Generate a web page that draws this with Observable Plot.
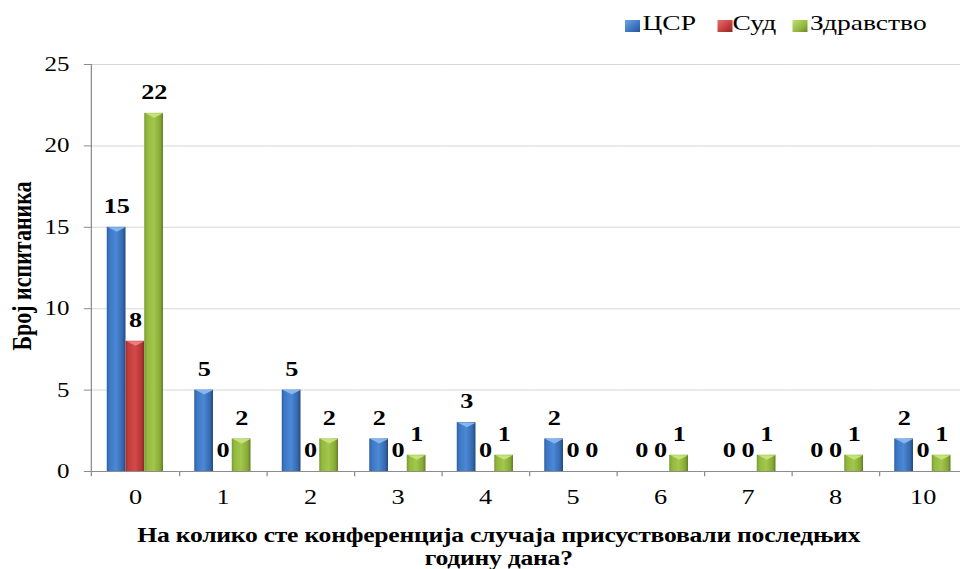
<!DOCTYPE html>
<html>
<head>
<meta charset="utf-8">
<script src="https://cdn.jsdelivr.net/npm/d3@7"></script>
<script src="https://cdn.jsdelivr.net/npm/@observablehq/plot@0.6"></script>
<style>
  html, body { margin: 0; padding: 0; background: #fff; overflow: hidden; width: 960px; height: 569px;
               font-family: "Liberation Serif", "Times New Roman", serif; }
  #page { position: relative; width: 776px; transform: scaleX(1.25); transform-origin: 0 0;
          font-family: "Liberation Serif", "Times New Roman", serif; color: #000; }
  #legend { position: relative; height: 40px; }
  .sw { position: absolute; top: 20px; width: 12px; height: 12px; }
  .lt { position: absolute; top: 12px; font-size: 22px; line-height: 22px; white-space: nowrap; }
  #ytitle { position: absolute; left: 18px; top: 266px; font-size: 22px; font-weight: bold; line-height: 1;
            white-space: nowrap; transform: translate(-50%, -50%) rotate(-90deg); }
  #xtitle { margin-top: 13px; padding-left: 22px; text-align: center; font-size: 20.5px; font-weight: bold;
            letter-spacing: -0.2px; line-height: 23px; }
</style>
</head>
<body>
<div id="page">
  <div id="legend"></div>
  <div id="chart"></div>
  <div id="ytitle">Број испитаника</div>
  <div id="xtitle">На колико сте конференција случаја присуствовали последњих<br>годину дана?</div>
</div>
<script>
// ---- data ----
const categories = ["0", "1", "2", "3", "4", "5", "6", "7", "8", "10"];
const series = ["ЦСР", "Суд", "Здравство"];
const csr = [15, 5, 5, 2, 3, 2, 0, 0, 0, 2];
const sud = [8, 0, 0, 0, 0, 0, 0, 0, 0, 0];
const zdravstvo = [22, 2, 2, 1, 1, 0, 1, 1, 1, 1];
const yTicks = [0, 5, 10, 15, 20, 25];

const seriesValues = [csr, sud, zdravstvo];
const gradIds = ["gB", "gR", "gG"];
const bevelColors = ["#86b6ee", "#ec8080", "#c4e37a"];
const data = categories.flatMap((c, i) =>
  series.map((s, j) => ({cat: c, series: s, value: seriesValues[j][i]})));

// ---- layout (pre-stretch units) ----
const W = 776, mL = 69.6, mR = 0;
const bw = (W - mL - mR) / categories.length;
const axisColor = "#8c8c8c";

const bevel = {
  draw(ctx) { ctx.moveTo(-7, 0); ctx.lineTo(7, 0); ctx.lineTo(0, 4.5); ctx.closePath(); }
};

const chart = Plot.plot({
  width: W, height: 471,
  marginLeft: mL, marginRight: mR, marginTop: 24, marginBottom: 40,
  style: {fontFamily: "Liberation Serif, Times New Roman, serif", background: "transparent", overflow: "visible"},
  fx: {domain: categories, paddingInner: 0, paddingOuter: 0, label: null},
  x: {domain: series, paddingInner: 0, paddingOuter: 0.7075, axis: null},
  y: {domain: [0, 25], label: null},
  color: {domain: series, range: gradIds.map(id => `url(#${id})`)},
  marks: [
    Plot.ruleY(yTicks.filter(v => v > 0), {stroke: "#d6d6d6", strokeWidth: 1}),
    Plot.barY(data, {fx: "cat", x: "series", y: "value", fill: "series", inset: 0}),
    ...series.map((s, j) => Plot.dot(data.filter(d => d.series === s && d.value > 0),
      {fx: "cat", x: "series", y: "value", symbol: bevel, fill: bevelColors[j], r: 3})),
    Plot.ruleY([0], {stroke: axisColor}),
    Plot.ruleX(categories, {fx: d => d, x: () => series[1], y1: 0, y2: -0.32, dx: bw / 2, stroke: axisColor}),
    Plot.ruleX([categories[0]], {fx: d => d, x: () => series[1], y1: -0.32, y2: 25, dx: -bw / 2, stroke: axisColor}),
    Plot.axisY({ticks: yTicks, tickSize: 6, tickPadding: 12, fontSize: 20, stroke: axisColor, fill: "#000", label: null}),
    Plot.axisFx({anchor: "bottom", tickSize: 0, tickPadding: 18, fontSize: 21, fill: "#000", label: null}),
    Plot.text(data, {fx: "cat", x: "series", y: "value", text: d => String(d.value), dy: -21,
      fontWeight: "bold", fontSize: 21, fill: "#000"})
  ]
});

// gradients for the bevelled bars
d3.select(chart).insert("defs", ":first-child").html(`
  <linearGradient id="gB" x1="0" x2="1" y1="0" y2="0">
    <stop offset="0" stop-color="#2f5f9f"/><stop offset="0.15" stop-color="#3d78c6"/>
    <stop offset="0.5" stop-color="#4b88d5"/><stop offset="0.85" stop-color="#3468ad"/>
    <stop offset="1" stop-color="#24497c"/></linearGradient>
  <linearGradient id="gR" x1="0" x2="1" y1="0" y2="0">
    <stop offset="0" stop-color="#a02e2e"/><stop offset="0.15" stop-color="#c23c3c"/>
    <stop offset="0.5" stop-color="#d24b4b"/><stop offset="0.85" stop-color="#b53535"/>
    <stop offset="1" stop-color="#862626"/></linearGradient>
  <linearGradient id="gG" x1="0" x2="1" y1="0" y2="0">
    <stop offset="0" stop-color="#7a9a30"/><stop offset="0.15" stop-color="#93b93f"/>
    <stop offset="0.5" stop-color="#a2c74b"/><stop offset="0.85" stop-color="#86a936"/>
    <stop offset="1" stop-color="#627d24"/></linearGradient>`);

document.getElementById("chart").appendChild(chart);

// legend (HTML, above the chart)
const legendPos = [[500, 514], [574, 586], [634, 648]];
const swatchCss = [
  "linear-gradient(135deg,#6fa3e3,#3b75c2 60%,#2a5590)",
  "linear-gradient(135deg,#e57070,#c23c3c 60%,#8e2828)",
  "linear-gradient(135deg,#c0df72,#93b93f 60%,#6a8828)"
];
const legend = document.getElementById("legend");
series.forEach((s, j) => {
  const sw = document.createElement("div");
  sw.className = "sw"; sw.style.left = legendPos[j][0] + "px"; sw.style.background = swatchCss[j];
  const t = document.createElement("div");
  t.className = "lt"; t.style.left = legendPos[j][1] + "px"; t.textContent = s;
  legend.appendChild(sw); legend.appendChild(t);
});
</script>
</body>
</html>
